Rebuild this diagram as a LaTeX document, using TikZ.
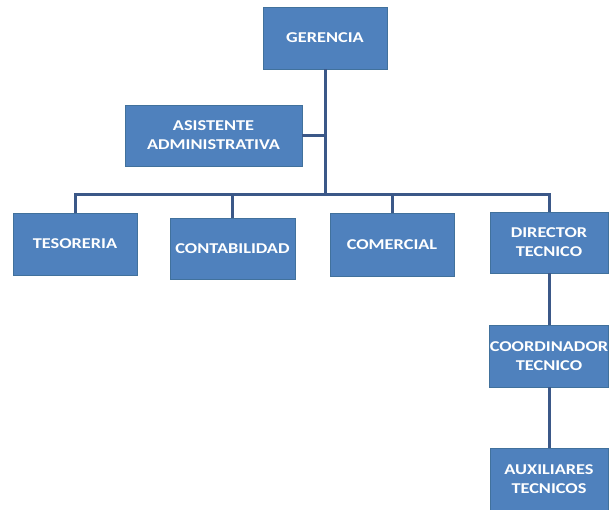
\documentclass[tikz,border=0pt]{standalone}
\usepackage{fontspec}
\setmainfont{Carlito}
\newfontfamily\boxfont[FakeStretch=1.22]{Carlito}
\definecolor{boxfill}{HTML}{4F81BD}
\definecolor{boxline}{HTML}{41719C}
\definecolor{connline}{HTML}{3B5888}
\begin{document}
\begin{tikzpicture}[x=1pt,y=-1pt,
  box/.style={draw=boxline,line width=0.8pt,fill=boxfill,text=white,font=\boxfont\fontsize{15}{19}\selectfont\bfseries,align=center,inner sep=0pt},
  conn/.style={draw=connline,line width=3pt}]
\useasboundingbox[fill=white] (0,0) rectangle (610,510);
\node[box,minimum width=124pt,minimum height=62pt] (ger) at (325,38) {GERENCIA};
\node[box,minimum width=177pt,minimum height=61pt] (asis) at (213.5,135.5) {ASISTENTE\\ADMINISTRATIVA};
\node[box,minimum width=124pt,minimum height=62pt] (teso) at (75,244) {TESORERIA};
\node[box,minimum width=125pt,minimum height=61pt] (conta) at (232.5,248.5) {CONTABILIDAD};
\node[box,minimum width=124pt,minimum height=63pt] (comer) at (392,244.5) {COMERCIAL};
\node[box,minimum width=118pt,minimum height=61pt] (dir) at (549,242.5) {DIRECTOR\\TECNICO};
\node[box,minimum width=118pt,minimum height=62pt] (coord) at (549,356) {COORDINADOR\\TECNICO};
\node[box,minimum width=118pt,minimum height=62pt] (aux) at (549,479) {AUXILIARES\\TECNICOS};
\coordinate (bus) at (325,195);
\draw[conn] (ger.south) -- (bus);
\draw[conn] (asis.east) -- (asis.east -| ger.south);
\draw[conn] (teso.north) |- (bus) -| (dir.north);
\draw[conn] (conta.north) -- (conta.north |- bus);
\draw[conn] (comer.north) -- (comer.north |- bus);
\draw[conn] (dir.south) -- (coord.north);
\draw[conn] (coord.south) -- (aux.north);
\end{tikzpicture}
\end{document}
